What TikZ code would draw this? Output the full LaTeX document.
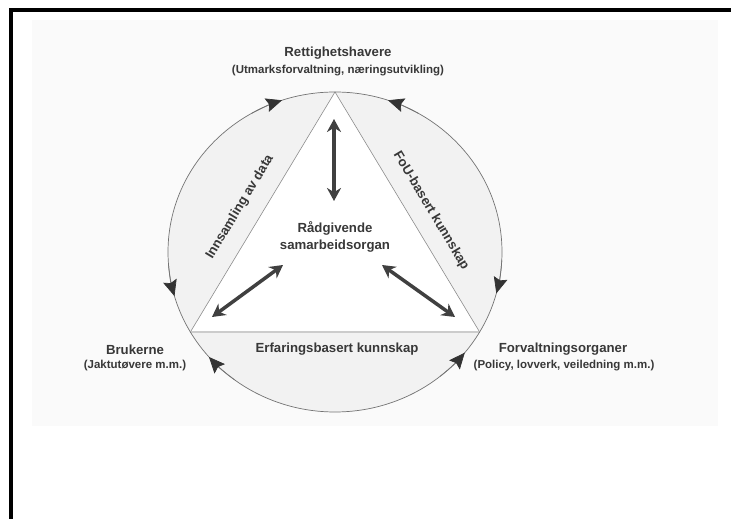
\documentclass[tikz,border=0pt]{standalone}
\usepackage{fontspec}
\setmainfont{Liberation Sans}
\usetikzlibrary{arrows.meta}

\begin{document}
\begin{tikzpicture}[x=1pt,y=1pt,
    lbl/.style={font=\bfseries\fontsize{13.2}{17}\selectfont,text=black!78},
    sublbl/.style={font=\bfseries\fontsize{11.5}{13}\selectfont,text=black!78},
    ring/.style={draw=black!55,line width=0.7pt},
    ringtip/.style={draw=black!55,line width=0.7pt,
      -{Stealth[length=16pt,width=14pt,inset=2.5pt,color=black!80,fill=black!80]}},
    link/.style={draw=black!75,line width=3.5pt,
      {Stealth[length=13pt,width=14pt]}-{Stealth[length=13pt,width=14pt]}}]
      \useasboundingbox (0,0) rectangle (731,519);
      \fill[black!2] (32,93) rectangle (718,499);
      \draw[line width=4pt] (10.5,0) -- (10.5,509) -- (731,509);

      \coordinate (c) at (335,267);
      \fill[black!5] (c) ellipse [x radius=167, y radius=160];
      \path (c) ++(90:167 and 160) coordinate (apex)
            (c) ++(210:167 and 160) coordinate (bl)
            (c) ++(330:167 and 160) coordinate (br);
      \fill[white] (apex) -- (bl) -- (br) -- cycle;
      \draw[black!45,line width=0.6pt] (bl) -- (apex) -- (br);
      \draw[black!20,line width=1.4pt] (bl) -- (br);
      \draw[ring] (c) ellipse [x radius=167, y radius=160];
      \draw[ringtip] (c) ++(120:167 and 160) arc[start angle=120, end angle=108.5, x radius=167, y radius=160];
      \draw[ringtip] (c) ++(184:167 and 160) arc[start angle=184, end angle=196, x radius=167, y radius=160];
      \draw[ringtip] (c) ++(60:167 and 160) arc[start angle=60, end angle=71.5, x radius=167, y radius=160];
      \draw[ringtip] (c) ++(-3:167 and 160) arc[start angle=-3, end angle=-15, x radius=167, y radius=160];
      \draw[ringtip] (c) ++(233:167 and 160) arc[start angle=233, end angle=221, x radius=167, y radius=160];
      \draw[ringtip] (c) ++(309:167 and 160) arc[start angle=309, end angle=321, x radius=167, y radius=160];

      \node[lbl] (rh) at (338,466) {Rettighetshavere};
      \node[sublbl] (rhsub) at (338,448) {(Utmarksforvaltning, næringsutvikling)};
      \node[lbl,align=center] (radg) at (335,282) {Rådgivende\\samarbeidsorgan};
      \node[lbl,rotate=59] (innsam) at (240,312) {Innsamling av data};
      \node[lbl,rotate=-59] (fou) at (431,308) {FoU-basert kunnskap};
      \node[lbl] (erf) at (337,170) {Erfaringsbasert kunnskap};
      \node[lbl] (bruk) at (135,169) {Brukerne};
      \node[sublbl] (bruksub) at (135,153) {(Jaktutøvere m.m.)};
      \node[lbl] (forv) at (563,170) {Forvaltningsorganer};
      \node[sublbl] (forvsub) at (564,153) {(Policy, lovverk, veiledning m.m.)};

      \coordinate (rhend) at (334,400);
      \coordinate (rhmid) at (334,318);
      \coordinate (brend) at (212,202);
      \coordinate (brmid) at (283,254);
      \coordinate (foend) at (455,202);
      \coordinate (fomid) at (382,254);
      \draw[link] (rhend) -- (rhmid);
      \draw[link] (brend) -- (brmid);
      \draw[link] (foend) -- (fomid);
\end{tikzpicture}
\end{document}
